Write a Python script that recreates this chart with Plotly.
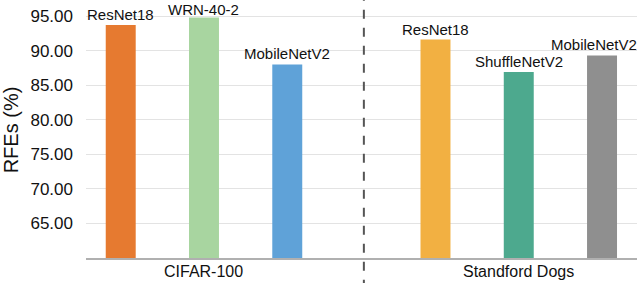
import plotly.graph_objects as go

models = ["ResNet18", "WRN-40-2", "MobileNetV2", "ResNet18", "ShuffleNetV2", "MobileNetV2"]
values = [93.7, 94.8, 88.0, 91.6, 86.9, 89.3]
groups = ["CIFAR-100", "Standford Dogs"]
colors = ["#E67A30", "#A8D5A0", "#5FA2D8", "#F2B042", "#4DA98E", "#8F8F8F"]
xpos = [0, 1, 2, 3.78, 4.78, 5.78]
yticks = [65, 70, 75, 80, 85, 90, 95]

fig = go.Figure()
fig.add_trace(go.Bar(x=xpos, y=values, marker=dict(color=colors, line=dict(width=0)),
                     width=0.36, showlegend=False, hoverinfo="skip"))

xshifts = [0, 0, 0, 0, 0, -8]
yshifts = [0, -3, 0, 0, 0, 0]
for x, v, m, s, ys in zip(xpos, values, models, xshifts, yshifts):
    fig.add_annotation(x=x, y=v, text=m, showarrow=False, yanchor="bottom", yshift=ys,
                       xshift=s, font=dict(size=15, color="#111"))

fig.add_annotation(x=1, y=0, yref="paper", text=groups[0], showarrow=False, yanchor="top",
                   yshift=-3, font=dict(size=16, color="#111"))
fig.add_annotation(x=4.78, y=0, yref="paper", text=groups[1], showarrow=False, yanchor="top",
                   yshift=-3, font=dict(size=16, color="#111"))

fig.add_shape(type="line", x0=2.92, x1=2.92, y0=-0.12, y1=1.02, xref="x", yref="paper",
              line=dict(color="#555555", width=2, dash="dash"))

fig.update_layout(
    width=640, height=283,
    margin=dict(l=86, r=3, t=2, b=25),
    paper_bgcolor="white", plot_bgcolor="white",
    font=dict(family="Liberation Sans, Arial, sans-serif", color="#111"),
    xaxis=dict(range=[-0.417, 6.2], showticklabels=False, showgrid=False, zeroline=False,
               showline=True, linecolor="#b0b0b0", linewidth=2, ticks=""),
    yaxis=dict(range=[60, 97.04], tickvals=yticks, ticktext=[f"{t:.2f}" for t in yticks],
               showgrid=True, gridcolor="#e3e3e3", gridwidth=1, zeroline=False,
               showline=False, ticks="", ticklabelstandoff=12,
               tickfont=dict(size=17, color="#111"),
               title=dict(text="RFEs (%)", font=dict(size=20, color="#111"), standoff=6)),
)
fig.write_html("out.html", config={"displayModeBar": False},
               post_script="document.body.style.margin='0px';")
